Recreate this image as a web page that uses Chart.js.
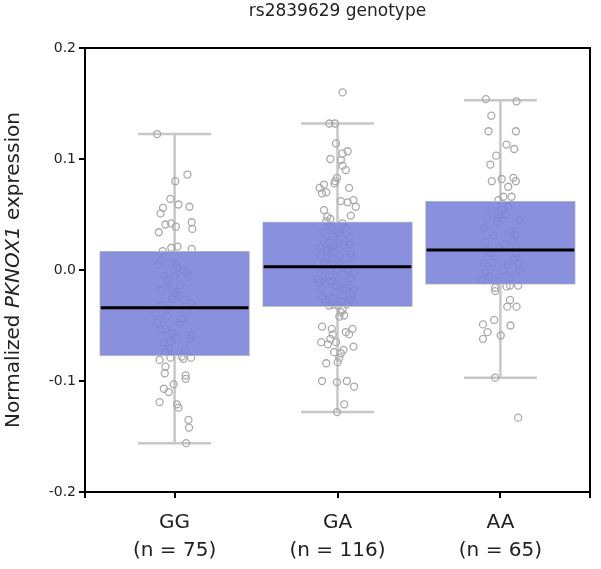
<!DOCTYPE html>
<html>
<head>
<meta charset="utf-8">
<script src="https://cdn.jsdelivr.net/npm/chart.js"></script>
<style>
  html, body { margin: 0; padding: 0; background: #fff; }
  #chart { display: block; }
</style>
</head>
<body>
<canvas id="chart" width="601" height="569"></canvas>
<script>
// Data
const groups = ['GG', 'GA', 'AA'];
const counts = [75, 116, 65];
const whiskerLow = [-0.156, -0.128, -0.097];
const quartile1 = [-0.0775, -0.033, -0.013];
const medians = [-0.034, 0.003, 0.018];
const quartile3 = [0.017, 0.0435, 0.062];
const whiskerHigh = [0.1225, 0.132, 0.153];
const yTicks = [-0.2, -0.1, 0.0, 0.1, 0.2];

// jittered samples, [x position, value]
const ggPoints = [
  [0.893,0.1225],[1.079,0.086],[1.004,0.080],[0.974,0.064],[1.024,0.059],[1.091,0.057],[0.929,0.056],[0.914,0.051],
  [0.944,0.041],[0.978,0.042],[1.008,0.039],[1.105,0.043],[1.109,0.037],[0.903,0.034],[0.980,0.020],[1.018,0.021],
  [1.105,0.019],[0.927,0.017],
  [0.914,0.009],[1.008,0.005],[1.020,0.002],[1.074,-0.002],[1.085,-0.006],[0.934,-0.005],[0.953,-0.009],[0.964,-0.013],
  [1.008,-0.020],[1.024,-0.023],[0.984,-0.026],[1.105,-0.030],[0.883,-0.039],[0.893,-0.047],[1.044,-0.044],[0.944,-0.053],
  [0.914,-0.054],[0.984,-0.057],[1.105,-0.059],[1.095,-0.062],[0.974,-0.065],[0.964,-0.070],[1.065,-0.072],
  [0.994,-0.021],[0.944,-0.074],[0.976,0.007],[1.054,0.000],[0.903,0.005],[1.036,-0.014],[0.921,-0.032],[1.073,-0.038],
  [1.012,-0.061],[0.934,-0.065],[1.030,-0.049],[0.952,-0.042],[1.000,-0.005],[0.958,-0.035],[1.060,-0.027],[0.915,-0.018],
  [0.908,-0.081],[0.974,-0.079],[1.044,-0.078],[1.101,-0.079],[1.054,-0.080],[0.944,-0.087],[0.940,-0.093],[1.068,-0.095],
  [1.068,-0.098],[0.934,-0.107],[0.964,-0.110],[0.994,-0.103],[0.908,-0.119],[1.014,-0.121],[1.024,-0.124],[1.085,-0.135],
  [1.089,-0.142],[1.071,-0.156]
];

const gaPoints = [
  [2.031,0.160],[1.950,0.132],[1.985,0.132],[1.991,0.114],[2.062,0.107],[2.031,0.105],[1.956,0.100],[2.021,0.099],
  [2.031,0.094],[2.051,0.090],[1.997,0.083],[1.987,0.080],[1.917,0.077],[1.981,0.078],[1.890,0.074],[1.931,0.070],
  [1.905,0.069],[2.071,0.074],[2.021,0.062],[2.062,0.061],[2.098,0.063],[2.112,0.057],[1.917,0.054],[2.082,0.049],
  [1.937,0.048],[1.956,0.046],
  [1.931,0.044],[1.950,0.039],[2.031,0.042],[1.911,0.027],[1.971,0.030],[2.011,0.024],[2.071,0.030],[1.931,0.018],
  [1.981,0.016],[2.082,0.015],[1.920,0.007],[2.001,0.007],[2.092,-0.003],[1.950,-0.005],[1.890,-0.011],[1.931,-0.013],
  [2.021,-0.015],[2.051,-0.016],[2.102,-0.018],[1.911,-0.024],[1.971,-0.025],[2.031,-0.023],[2.082,-0.027],[2.102,-0.029],
  [2.001,-0.032],[1.894,0.020],[1.961,0.020],[2.082,0.011],[1.937,0.005],[2.015,0.013],[1.981,0.005],[1.882,-0.008],
  [2.063,-0.013],[2.082,-0.007],[1.924,-0.029],[1.985,-0.020],[2.057,-0.031],[1.967,0.038],[2.003,0.035],[1.912,0.034],
  [2.051,0.038],[1.949,0.025],[2.039,0.022],[1.894,0.013],[1.967,0.011],[2.045,0.004],[1.912,0.001],[1.991,0.000],
  [2.063,0.000],[1.961,-0.010],[2.009,-0.008],[1.900,-0.017],[1.991,-0.015],[2.027,-0.028],[1.949,-0.032],[2.094,-0.023],
  [1.979,0.022],[1.937,0.012],[2.076,0.023],[2.015,0.033],[1.924,-0.005],[2.033,-0.004],[1.973,-0.031],
  [2.031,-0.036],[2.021,-0.038],[2.041,-0.041],[2.011,-0.042],[1.905,-0.051],[1.965,-0.053],[2.051,-0.056],[2.092,-0.053],
  [2.071,-0.058],[1.971,-0.058],[1.956,-0.062],[1.900,-0.065],[1.941,-0.067],[1.991,-0.065],[2.098,-0.069],[2.037,-0.072],
  [2.021,-0.075],[2.011,-0.079],[2.001,-0.083],[1.931,-0.084],[1.905,-0.100],[1.997,-0.101],[2.057,-0.100],[2.102,-0.105],
  [2.041,-0.121],[1.997,-0.128],[1.979,-0.074]
];

const aaPoints = [
  [2.911,0.154],[3.099,0.152],[2.944,0.139],[2.927,0.125],[3.095,0.125],[3.038,0.113],[3.085,0.109],[2.974,0.103],
  [2.938,0.095],[2.947,0.080],[3.008,0.082],[3.079,0.083],[3.095,0.080],[3.048,0.075],[3.068,0.066],[3.018,0.066],
  [2.988,0.063],
  [2.944,0.054],[3.008,0.054],[3.048,0.057],[2.917,0.047],[2.978,0.044],[3.119,0.045],[2.897,0.038],[3.068,0.035],
  [3.089,0.032],[2.908,0.025],[3.028,0.023],[2.917,0.018],[2.938,0.015],[3.098,0.015],[2.897,0.006],[3.048,0.005],
  [3.109,0.006],[2.908,-0.002],[2.928,-0.006],[3.119,0.000],[3.089,0.011],[2.988,0.047],[3.030,0.050],[3.079,0.027],
  [2.958,0.031],[2.994,0.020],[2.952,0.007],[3.018,0.000],[3.060,-0.007],[2.982,-0.010],[2.885,-0.009],[3.097,0.022],
  [2.968,-0.016],[2.968,-0.019],[3.038,-0.015],[3.109,-0.014],[3.059,-0.014],[3.059,-0.027],[3.042,-0.033],[3.099,-0.033],
  [2.962,-0.045],[2.893,-0.049],[3.062,-0.050],[2.921,-0.056],[3.002,-0.059],[2.893,-0.062],[2.968,-0.097],[3.109,-0.133]
];

const BOX_HALF = 0.453;   // half box width in x units
const CAP_HALF = 0.224;   // half whisker cap width

const boxData = groups.map((g, i) => ({ x: i + 1, y: [quartile1[i], quartile3[i]] }));

// whisker segments separated by gaps
const whiskerData = [];
groups.forEach((g, i) => {
  const c = i + 1;
  whiskerData.push({ x: c, y: quartile3[i] }, { x: c, y: whiskerHigh[i] }, { x: c, y: null });
  whiskerData.push({ x: c - CAP_HALF, y: whiskerHigh[i] }, { x: c + CAP_HALF, y: whiskerHigh[i] }, { x: c, y: null });
  whiskerData.push({ x: c, y: quartile1[i] }, { x: c, y: whiskerLow[i] }, { x: c, y: null });
  whiskerData.push({ x: c - CAP_HALF, y: whiskerLow[i] }, { x: c + CAP_HALF, y: whiskerLow[i] }, { x: c, y: null });
});

const medianData = [];
groups.forEach((g, i) => {
  const c = i + 1;
  medianData.push({ x: c - BOX_HALF, y: medians[i] }, { x: c + BOX_HALF, y: medians[i] }, { x: c, y: null });
});

const samplePoints = [].concat(ggPoints, gaPoints, aaPoints).map(p => ({ x: p[0], y: p[1] }));

// y title with italic gene name
const yTitlePlugin = {
  id: 'yTitle',
  afterDraw(chart) {
    const ctx = chart.ctx;
    const area = chart.chartArea;
    const parts = [
      { text: 'Normalized ', font: '20px "DejaVu Sans"' },
      { text: 'PKNOX1', font: 'italic 20px "DejaVu Sans"' },
      { text: ' expression', font: '20px "DejaVu Sans"' }
    ];
    ctx.save();
    let total = 0;
    parts.forEach(p => { ctx.font = p.font; p.w = ctx.measureText(p.text).width; total += p.w; });
    ctx.translate(14, (area.top + area.bottom) / 2);
    ctx.rotate(-Math.PI / 2);
    ctx.fillStyle = '#222';
    ctx.textBaseline = 'middle';
    let x = -total / 2;
    parts.forEach(p => { ctx.font = p.font; ctx.fillText(p.text, x, 0); x += p.w; });
    ctx.restore();
  }
};

new Chart(document.getElementById('chart'), {
  type: 'bar',
  data: {
    datasets: [
      {
        type: 'scatter',
        data: samplePoints,
        pointRadius: 3.5,
        pointBorderWidth: 1.3,
        pointBorderColor: '#a9a9a9',
        pointBackgroundColor: 'rgba(255,255,255,0)',
        order: 4
      },
      {
        type: 'bar',
        data: boxData,
        backgroundColor: 'rgba(124,132,218,0.9)',
        borderColor: '#c4c4c4',
        borderWidth: 1,
        borderSkipped: false,
        barThickness: 150,
        order: 3
      },
      {
        type: 'scatter',
        data: whiskerData,
        showLine: true,
        spanGaps: false,
        borderColor: '#c8c8c8',
        borderWidth: 2.5,
        pointRadius: 0,
        order: 5
      },
      {
        type: 'scatter',
        data: medianData,
        showLine: true,
        spanGaps: false,
        borderColor: '#000',
        borderWidth: 3,
        pointRadius: 0,
        order: 1
      }
    ]
  },
  options: {
    responsive: false,
    animation: false,
    layout: { padding: 0 },
    plugins: {
      legend: { display: false },
      tooltip: { enabled: false }
    },
    scales: {
      x: {
        type: 'linear',
        position: 'bottom',
        min: 0.45,
        max: 3.55,
        offset: false,
        afterBuildTicks: axis => {
          axis.ticks = [0.45, 1, 2, 3, 3.55].map(v => ({ value: v }));
        },
        afterFit: axis => { axis.height = 77; },
        grid: { display: true, offset: false, drawOnChartArea: false, drawTicks: true, tickLength: 6, color: '#000', lineWidth: 2 },
        border: { display: true, color: '#000', width: 2 },
        ticks: {
          autoSkip: false,
          maxRotation: 0,
          padding: 11,
          color: '#222',
          font: { family: 'DejaVu Sans', size: 20, lineHeight: 1.4 },
          callback: v => {
            const i = Math.round(v) - 1;
            if (Math.abs(v - Math.round(v)) > 0.01 || i < 0 || i >= groups.length) return '';
            return [groups[i], '(n = ' + counts[i] + ')'];
          }
        }
      },
      x2: {
        type: 'linear',
        position: 'top',
        min: 0.45,
        max: 3.55,
        display: true,
        afterFit: axis => { axis.height = 48; },
        grid: { display: false },
        border: { display: true, color: '#000', width: 2 },
        ticks: { display: false },
        title: {
          display: true,
          text: 'rs2839629 genotype',
          color: '#222',
          font: { family: 'DejaVu Sans', size: 17 },
          padding: { top: 1, bottom: 0 }
        }
      },
      y: {
        type: 'linear',
        position: 'left',
        min: -0.2,
        max: 0.2,
        afterBuildTicks: axis => { axis.ticks = yTicks.map(v => ({ value: v })); },
        afterFit: axis => { axis.width = 85; },
        grid: { display: true, drawOnChartArea: false, drawTicks: true, tickLength: 6, color: '#000', lineWidth: 2 },
        border: { display: true, color: '#000', width: 2 },
        ticks: {
          padding: 3,
          color: '#222',
          font: { family: 'DejaVu Sans', size: 14 },
          callback: v => v.toFixed(1)
        }
      },
      y2: {
        type: 'linear',
        position: 'right',
        min: -0.2,
        max: 0.2,
        display: true,
        afterFit: axis => { axis.width = 4; },
        grid: { display: false },
        border: { display: true, color: '#000', width: 2 },
        ticks: { display: false }
      }
    }
  },
  plugins: [yTitlePlugin]
});
</script>
</body>
</html>
